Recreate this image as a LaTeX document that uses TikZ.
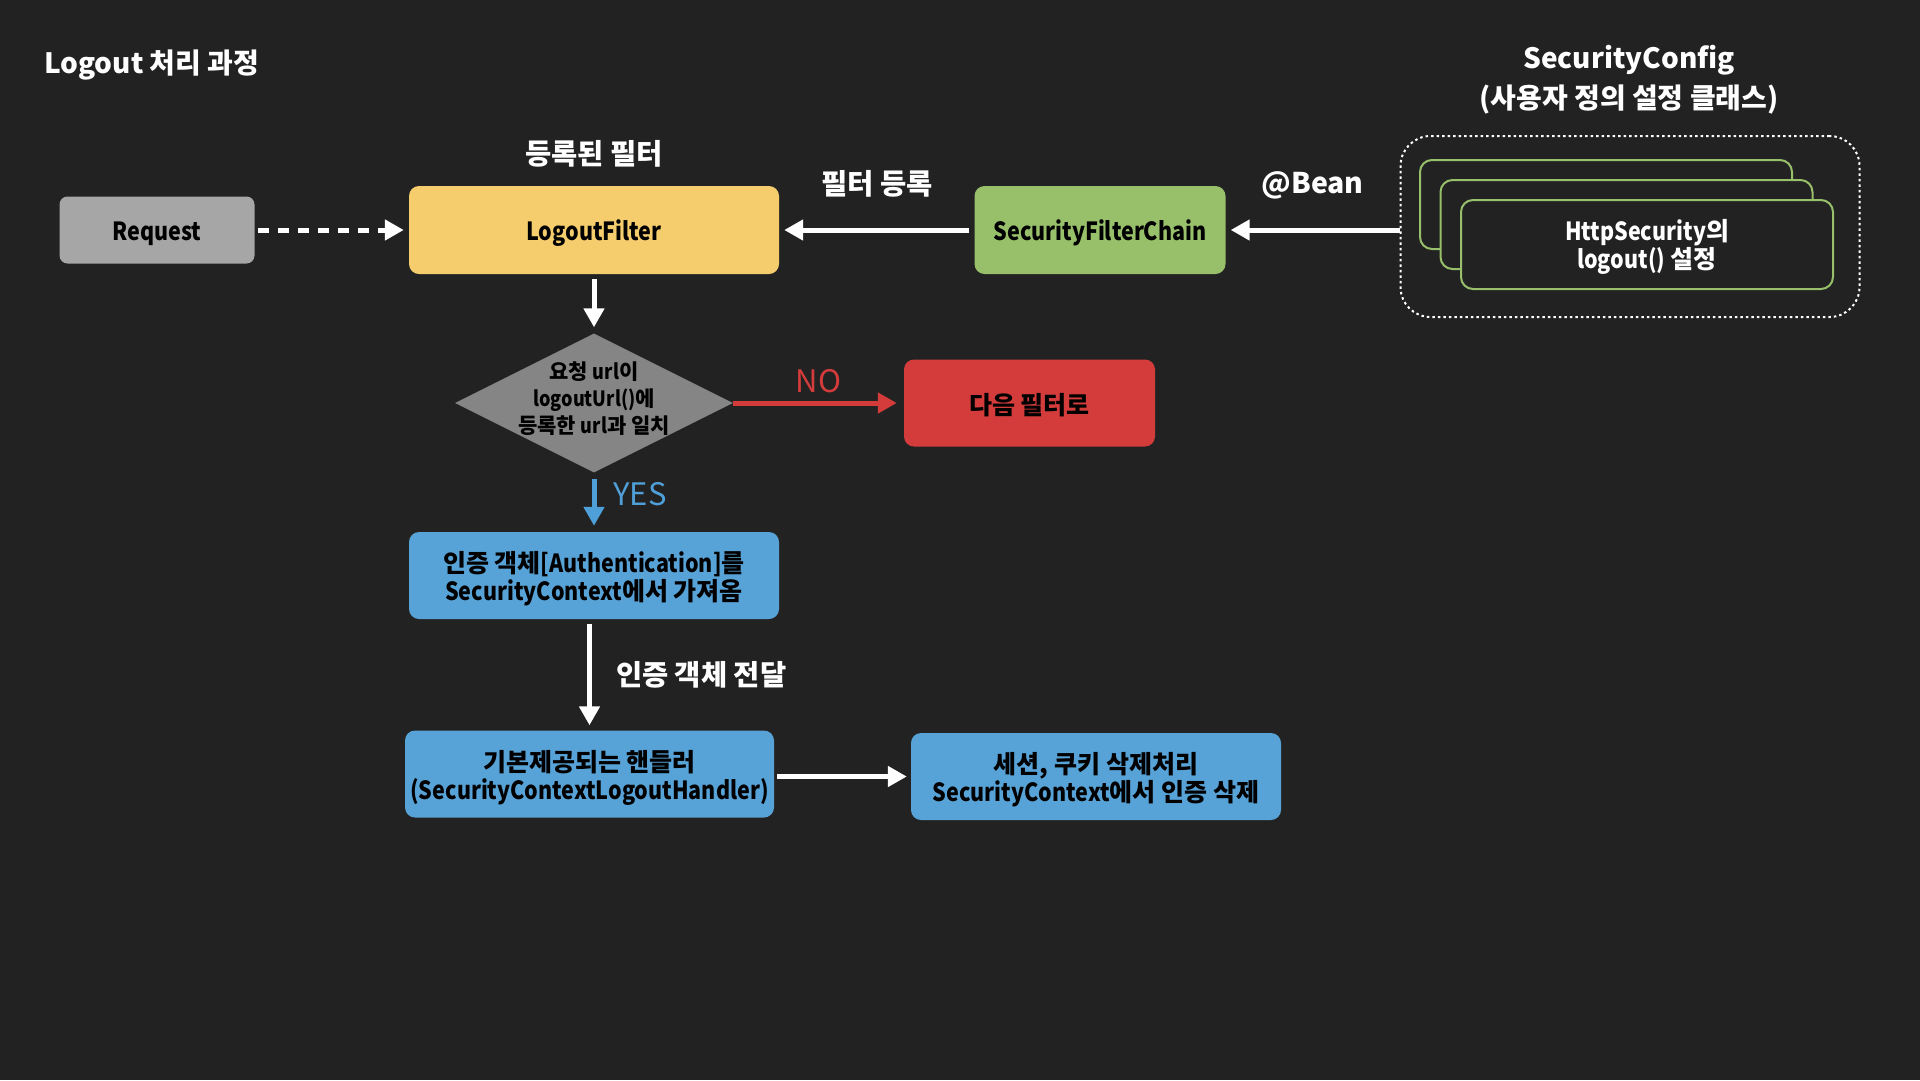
\documentclass[tikz,border=0pt]{standalone}
\usepackage{fontspec}
\setmainfont{Noto Sans CJK KR}
\newfontfamily\condfont{Noto Sans CJK KR}[FakeStretch=0.86]
\newcommand{\cond}[1]{{\condfont #1}}
\newcommand{\boxstrut}[1]{\rule{0pt}{#1}}
\usepackage{color}
\usepackage{tikz}
\usetikzlibrary{arrows.meta}
\usetikzlibrary{shapes.geometric}
\usetikzlibrary{positioning}

\definecolor{bgdark}{HTML}{222222}
\definecolor{reqgray}{HTML}{A6A6A6}
\definecolor{filteryellow}{HTML}{F5CD6D}
\definecolor{chaingreen}{HTML}{98BF6A}
\definecolor{checkgray}{HTML}{858585}
\definecolor{nextred}{HTML}{D43C3C}
\definecolor{stepblue}{HTML}{57A3D7}
\definecolor{yesblue}{HTML}{4F9FD8}

\begin{document}
\begin{tikzpicture}
			[
			x=1pt, y=-1pt,
			font=\bfseries\fontsize{25}{28}\selectfont,
			arrow line/.style={draw=white,line width=5pt,-{Triangle[width=20pt,length=19pt]}}
			]
			
			% Box styles
			\tikzstyle{flow box}=[rectangle,rounded corners=10pt,align=center,text=black,inner sep=0pt,minimum width=370pt,minimum height=87pt,execute at begin node=\boxstrut{26pt}];
			\tikzstyle{request box}=[flow box,fill=reqgray,minimum width=195pt,minimum height=67pt,rounded corners=8pt];
			\tikzstyle{chain box}=[flow box,fill=chaingreen,minimum width=251pt,minimum height=88pt];
			\tikzstyle{next box}=[flow box,fill=nextred,minimum width=251pt,execute at begin node={}];
			\tikzstyle{step box}=[flow box,fill=stepblue,execute at begin node={}];
			\tikzstyle{check diamond}=[diamond,aspect=2,fill=checkgray,inner sep=0pt,minimum width=278pt,minimum height=139pt];
			\tikzstyle{check text}=[align=center,text=black,inner sep=0pt,font=\bfseries\fontsize{21}{27}\selectfont];
			\tikzstyle{config box}=[rectangle,draw=white,line width=2pt,dash pattern=on 2.5pt off 3pt,rounded corners=30pt,minimum width=459pt,minimum height=181pt];
			\tikzstyle{layer box}=[rectangle,draw=chaingreen,fill=bgdark,line width=2pt,rounded corners=12pt,minimum width=372pt,minimum height=89pt,align=center,inner sep=0pt];
			\tikzstyle{label text}=[text=white,inner sep=0pt,font=\bfseries\fontsize{28.5}{30}\selectfont];
			\tikzstyle{answer text}=[inner sep=0pt,font=\mdseries\fontsize{31}{32}\selectfont];
			
			% Background
			\fill[bgdark](0,0)rectangle(1920,1080);
			\useasboundingbox(0,0)rectangle(1920,1080);
			
			% Titles
			\node(title)[label text,anchor=west,font=\bfseries\fontsize{28}{30}\selectfont]at(44,65){Logout 처리 과정};
			\node(config title)[label text,align=center,font=\bfseries\fontsize{28}{40}\selectfont]at(1629,80){SecurityConfig\\(사용자 정의 설정 클래스)};
			\node(reg title)[label text]at(594,154){등록된 필터};
			
			% Top row
			\node(request)[request box]at(157,230){\cond{Request}};
			\node(logout)[flow box,fill=filteryellow,minimum height=88pt]at(594,230){\cond{LogoutFilter}};
			\node(chain)[chain box]at(1100,230){\cond{SecurityFilterChain}};
			
			% SecurityConfig with stacked settings
			\node(config)[config box]at(1630,226.5){};
			\node(layer back)[layer box]at(1606,204.5){};
			\node(layer mid)[layer box]at(1626.5,224.5){};
			\node(layer front)[layer box,text=white]at(1647,244.5){\boxstrut{25pt}\cond{HttpSecurity}의\\\cond{logout()} 설정};
			
			% Check and next filter
			\node(check)[check diamond]at(594,403){};
			\node(check text)[check text,yshift=4pt]at(check){요청 \cond{url}이\\\cond{logoutUrl()}에\\등록한 \cond{url}과 일치};
			\node(next)[next box]at(1029.5,403){다음 필터로};
			
			% Logout steps
			\node(auth)[step box]at(594,575.5){\boxstrut{28pt}인증 객체\cond{[Authentication]}를\\\cond{SecurityContext}에서 가져옴};
			\node(handler)[step box,minimum width=369pt]at(589.5,774){\boxstrut{29pt}기본제공되는 핸들러\\\cond{(SecurityContextLogoutHandler)}};
			\node(clear)[step box]at(1096,776.5){\boxstrut{28pt}세션, 쿠키 삭제처리\\\cond{SecurityContext}에서 인증 삭제};
			
			% Connectors
			\draw[arrow line,dash pattern=on 11pt off 9pt,shorten <=3pt,shorten >=5pt](request)--(logout);
			\draw[arrow line,shorten <=5pt,shorten >=5pt](chain)--(logout)
				node[label text,midway,yshift=46pt]{필터 등록};
			\draw[arrow line,shorten >=5pt](config.west |- chain)--(chain)
				node[label text,midway,yshift=45pt]{@Bean};
			\draw[arrow line,shorten <=5pt,shorten >=6pt](logout)--(check);
			\draw[arrow line,draw=nextred,shorten >=7pt](check)--(next)
				node[answer text,midway,yshift=22pt,text=nextred]{NO};
			\draw[arrow line,draw=yesblue,shorten <=6pt,shorten >=6pt](check)--(auth)
				node[answer text,midway,right,xshift=17pt,yshift=8pt,text=yesblue]{YES};
			\draw[arrow line,shorten <=5pt,shorten >=5pt](auth.south -| handler.north)--(handler.north)
				node[label text,midway,right,xshift=24pt]{인증 객체 전달};
			\draw[arrow line,shorten <=3pt,shorten >=4pt](handler.east |- clear)--(clear);
			\end{tikzpicture}
\end{document}
